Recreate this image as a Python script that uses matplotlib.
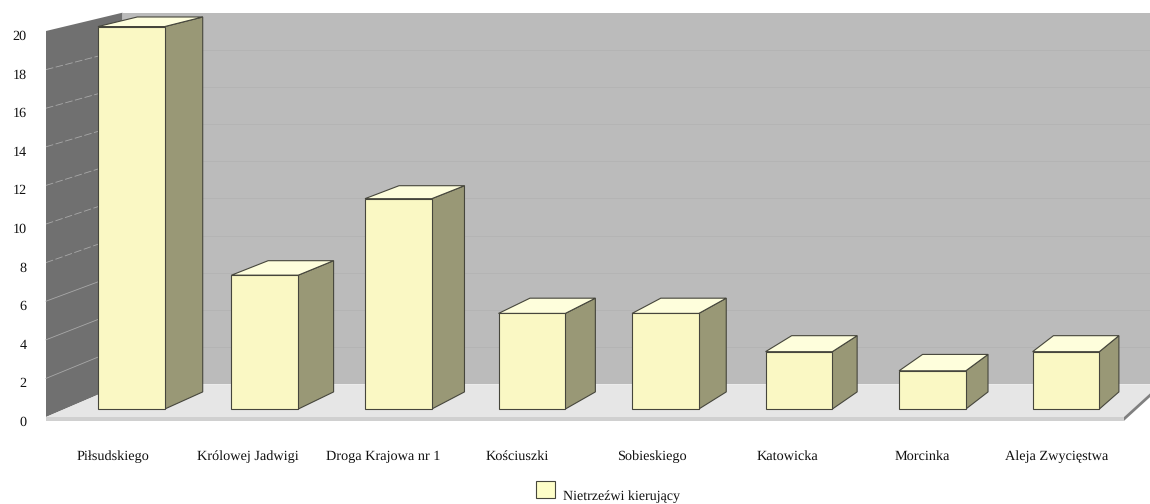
import matplotlib
matplotlib.use("Agg")
import matplotlib.pyplot as plt
from matplotlib.patches import Polygon, Rectangle
from matplotlib.transforms import ScaledTranslation

streets = ["Piłsudskiego", "Królowej Jadwigi", "Droga Krajowa nr 1", "Kościuszki",
           "Sobieskiego", "Katowicka", "Morcinka", "Aleja Zwycięstwa"]
values = [20, 7, 11, 5, 5, 3, 2, 3]
y_ticks = list(range(0, 21, 2))
legend_label = "Nietrzeźwi kierujący"

plt.rcParams["font.family"] = ["Liberation Serif", "DejaVu Serif"]
plt.rcParams["text.hinting"] = "no_hinting"

W, H = 1150, 504
fig = plt.figure(figsize=(W / 100, H / 100), dpi=100)
# axes = front plane of the 3d box, the rest is projected towards a vanishing point
ax = fig.add_axes([46 / W, (H - 417) / H, 1078 / W, 386 / H])
ax.set_xlim(-0.5, 7.5)
ax.set_ylim(0, 20)
ax.patch.set_visible(False)
for s in ax.spines.values():
    s.set_visible(False)

VP = (14.64, 45.3)
BOX_DEPTH = 0.0375
BAR_FRONT = 0.0091
BAR_BACK = 0.0287
BAR_W = 0.25


def proj(x, y, d):
    return (x + d * (VP[0] - x), y + d * (VP[1] - y))


def quad(points, color, z, edge="none", lw=0):
    ax.add_patch(Polygon(points, closed=True, facecolor=color, edgecolor=edge,
                         linewidth=lw, zorder=z, clip_on=False))


# walls and floor
x0, x1 = -0.5, 7.5
quad([proj(x0, 0, BOX_DEPTH), proj(x0, 20, BOX_DEPTH), proj(x1, 20, BOX_DEPTH), proj(x1, 0, BOX_DEPTH)], "#bbbbbb", 1)
quad([proj(x0, 0, 0), proj(x0, 20, 0), proj(x0, 20, BOX_DEPTH), proj(x0, 0, BOX_DEPTH)], "#707070", 2)
quad([proj(x0, 0, 0), proj(x1, 0, 0), proj(x1, 0, BOX_DEPTH), proj(x0, 0, BOX_DEPTH)], "#e6e6e6", 2)
quad([(x0, 0), (x1, 0), (x1, -0.2), (x0, -0.2)], "#d0d0d0", 2)
quad([(x1, 0), (x1, -0.2), proj(x1, -0.2, BOX_DEPTH), proj(x1, 0, BOX_DEPTH)], "#808080", 2)

for v in y_ticks[1:-1]:
    a = proj(x0, v, BOX_DEPTH)
    b = proj(x1, v, BOX_DEPTH)
    ax.plot([a[0], b[0]], [a[1], b[1]], color="#b3b3b3", lw=0.6, zorder=3, clip_on=False)
    c = proj(x0, v, 0)
    # the upper lines on the side wall look broken in the original
    ls = (0, (9, 3)) if v >= 8 else "-"
    ax.plot([c[0], a[0]], [c[1], a[1]], color="#a8a8a8", lw=0.6, ls=ls, zorder=3, clip_on=False)

# bars
for i, v in enumerate(values):
    l, r = i - BAR_W, i + BAR_W
    edge = "#46463c"
    quad([proj(r, 0, BAR_FRONT), proj(r, v, BAR_FRONT), proj(r, v, BAR_BACK), proj(r, 0, BAR_BACK)],
         "#999876", 10, edge, 0.8)
    quad([proj(l, v, BAR_FRONT), proj(r, v, BAR_FRONT), proj(r, v, BAR_BACK), proj(l, v, BAR_BACK)],
         "#fefedc", 10, edge, 0.8)
    quad([proj(l, 0, BAR_FRONT), proj(r, 0, BAR_FRONT), proj(r, v, BAR_FRONT), proj(l, v, BAR_FRONT)],
         "#faf8c4", 11, edge, 0.8)

ax.set_xticks(range(len(streets)))
ax.set_xticklabels(streets, fontsize=10.3, color="#111111", va="baseline")
ax.set_yticks(y_ticks)
ax.tick_params(axis="both", length=0, labelcolor="#111111")
ax.tick_params(axis="y", labelsize=10.2, pad=14)
ax.tick_params(axis="x", pad=31)
shift = ScaledTranslation(0, -4 / 100, fig.dpi_scale_trans)
for lab in ax.get_yticklabels():
    lab.set_transform(lab.get_transform() + shift)

# legend
fig.add_artist(Rectangle((536 / W, (H - 498) / H), 19 / W, 17 / H, transform=fig.transFigure,
                         facecolor="#fefec8", edgecolor="#46463c", linewidth=0.8))
fig.text(563 / W, (H - 497) / H, legend_label, fontsize=10.1, color="#111111", va="center", ha="left")

fig.savefig("out.png", dpi=100)
